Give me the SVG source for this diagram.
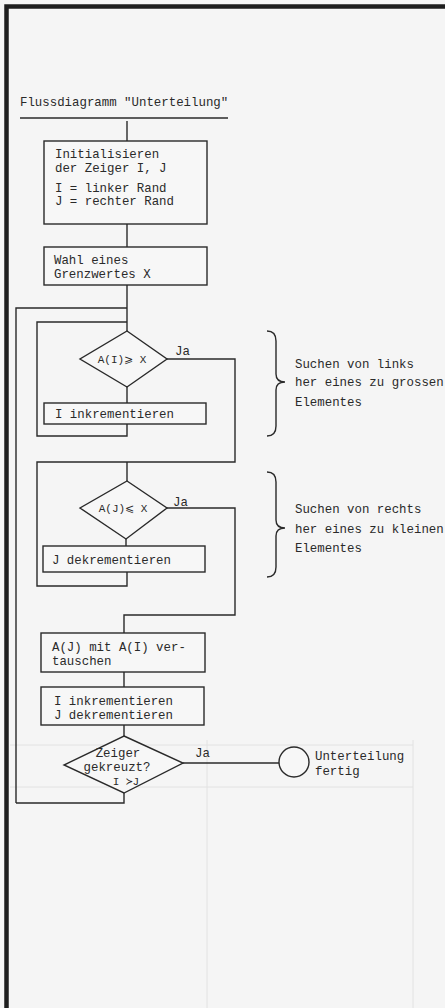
<svg xmlns="http://www.w3.org/2000/svg" width="445" height="1008" viewBox="0 0 445 1008">
<style>
.t{font-family:"Liberation Mono","DejaVu Sans Mono",monospace;font-size:12.4px;fill:#2a2a2a}
.s{font-size:11px}
.ln{fill:none;stroke:#2a2a2a;stroke-width:1.4}
.bx{fill:#f7f7f7;stroke:#2a2a2a;stroke-width:1.4}
.gh{fill:none;stroke:#e2e2e2;stroke-width:1}
</style>
<rect x="0" y="0" width="445" height="1008" fill="#f5f5f5"/>
<g id="ghost">
<path class="gh" d="M10,745 H413 M10,787 H413 M207,740 V1008 M413,740 V1008"/>
</g>
<g id="border">
<path d="M6.5,1008 V6.5 H445" fill="none" stroke="#1e1e1e" stroke-width="4.5"/>
</g>
<g id="title">
<text class="t" x="20" y="106">Flussdiagramm "Unterteilung"</text>
<path class="ln" d="M20,118 H228"/>
</g>
<g id="connectors">
<path class="ln" d="M127,121 V141"/>
<path class="ln" d="M127,224 V247"/>
<path class="ln" d="M127,285 V331"/>
<path class="ln" d="M16,803 V308 H127"/>
<path class="ln" d="M127,322 H37 V436 H127 V424"/>
<path class="ln" d="M127,387 V403"/>
<path class="ln" d="M167,359 H235 V462 H37 V586 H127 V572"/>
<path class="ln" d="M127,462 V481"/>
<path class="ln" d="M126,539 V546"/>
<path class="ln" d="M167,508 H235 V615 H124 V633"/>
<path class="ln" d="M124,672 V687"/>
<path class="ln" d="M124,725 V736"/>
<path class="ln" d="M124,793 V803 H16"/>
<path class="ln" d="M183,763 H279"/>
<text class="t" x="175" y="355">Ja</text>
<text class="t" x="173" y="506">Ja</text>
<text class="t" x="195" y="757">Ja</text>
</g>
<g id="init">
<rect class="bx" x="44" y="141" width="163" height="83"/>
<text class="t" x="55" y="158">Initialisieren</text>
<text class="t" x="55" y="172">der Zeiger I, J</text>
<text class="t" x="55" y="192">I = linker Rand</text>
<text class="t" x="55" y="205">J = rechter Rand</text>
</g>
<g id="grenzwert">
<rect class="bx" x="44" y="247" width="163" height="38"/>
<text class="t" x="54" y="264">Wahl eines</text>
<text class="t" x="54" y="278">Grenzwertes  X</text>
</g>
<g id="cond1">
<polygon class="bx" points="127,331 167,359 127,387 80,359"/>
<text class="t s" x="122" y="363" text-anchor="middle">A(I)⩾ X</text>
</g>
<g id="inc1">
<rect class="bx" x="44" y="403" width="162" height="21"/>
<text class="t" x="55" y="418">I inkrementieren</text>
</g>
<g id="cond2">
<polygon class="bx" points="127,481 167,508 126,539 80,508"/>
<text class="t s" x="123" y="512" text-anchor="middle">A(J)⩽ X</text>
</g>
<g id="dec1">
<rect class="bx" x="43" y="546" width="162" height="26"/>
<text class="t" x="52" y="564">J dekrementieren</text>
</g>
<g id="swap">
<rect class="bx" x="41" y="633" width="164" height="39"/>
<text class="t" x="52" y="651">A(J) mit A(I) ver-</text>
<text class="t" x="52" y="665">tauschen</text>
</g>
<g id="incdec">
<rect class="bx" x="41" y="687" width="163" height="38"/>
<text class="t" x="54" y="705">I inkrementieren</text>
<text class="t" x="54" y="719">J dekrementieren</text>
</g>
<g id="cond3">
<polygon class="bx" points="124,736 183,763 124,793 64,765"/>
<text class="t" x="118" y="757" text-anchor="middle">Zeiger</text>
<text class="t" x="117" y="771" text-anchor="middle">gekreuzt?</text>
<text class="t s" x="126" y="785" text-anchor="middle">I ≻J</text>
</g>
<g id="end">
<circle class="bx" cx="294" cy="762" r="15"/>
<text class="t" x="315" y="760">Unterteilung</text>
<text class="t" x="315" y="775">fertig</text>
</g>
<g id="brace1">
<path class="ln" d="M267,331 Q276,331 276,341 L276,374 Q276,382 285,382 Q276,382 276,390 L276,426 Q276,436 267,436"/>
<text class="t" x="295" y="368">Suchen von links</text>
<text class="t" x="295" y="386">her eines zu grossen</text>
<text class="t" x="295" y="406">Elementes</text>
</g>
<g id="brace2">
<path class="ln" d="M267,472 Q276,472 276,482 L276,520 Q276,528 285,528 Q276,528 276,536 L276,567 Q276,577 267,577"/>
<text class="t" x="295" y="513">Suchen von rechts</text>
<text class="t" x="295" y="533">her eines zu kleinen</text>
<text class="t" x="295" y="552">Elementes</text>
</g>
</svg>
